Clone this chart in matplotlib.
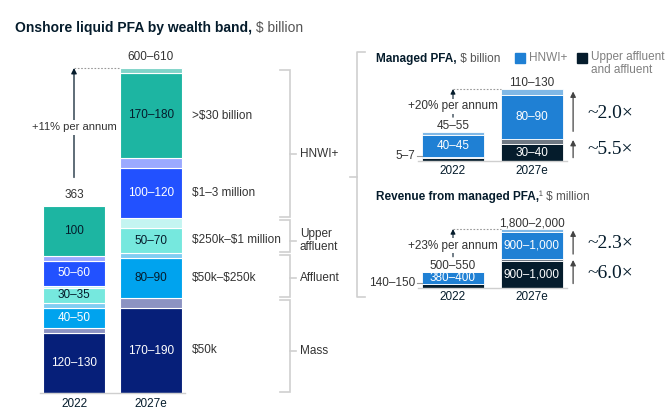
import matplotlib
matplotlib.use("Agg")
import matplotlib.pyplot as plt
from matplotlib.patches import Rectangle

W, H = 669, 416
plt.rcParams['font.family'] = ['Liberation Sans', 'DejaVu Sans']
plt.rcParams['text.parse_math'] = False

INK = "#051c2c"
GREY = "#555555"
RULE = "#cfcfcf"

# onshore liquid PFA, $ billion - bands listed bottom to top
years = ["2022", "2027e"]
bands = ["$50k", "$50k–$250k", "$250k–$1 million", "$1–3 million", ">$30 billion"]
pfa_low_2022 = [120, 40, 30, 50, 100]
pfa_high_2022 = [130, 50, 35, 60, 100]
pfa_low_2027 = [170, 80, 50, 100, 170]
pfa_high_2027 = [190, 90, 70, 120, 180]
pfa_totals = ["363", "600–610"]
pfa_cagr = "+11% per annum"
segments = ["Mass", "Affluent", "Upper\naffluent", "HNWI+"]
segment_bands = [[0], [1], [2], [3, 4]]

# managed PFA, $ billion
managed_aff_low = [5, 30]
managed_aff_high = [7, 40]
managed_hnwi_low = [40, 80]
managed_hnwi_high = [45, 90]
managed_totals = ["45–55", "110–130"]
managed_cagr = "+20% per annum"
managed_growth = ["~5.5×", "~2.0×"]  # affluent, HNWI+

# revenue from managed PFA, $ million
revenue_aff_low = [140, 900]
revenue_aff_high = [150, 1000]
revenue_hnwi_low = [380, 900]
revenue_hnwi_high = [400, 1000]
revenue_totals = ["500–550", "1,800–2,000"]
revenue_cagr = "+23% per annum"
revenue_growth = ["~6.0×", "~2.3×"]

band_colors = ["#061f79", "#00a3ee", "#76e8de", "#2251ff", "#1db5a2"]
band_range_colors = ["#8c93c2", "#80cdf2", "#c4f5f1", "#9ba9ff", "#7fd4c9"]
band_text = [["white", "white", INK, "white", INK],
             ["white", INK, INK, "white", INK]]
HNWI_C, HNWI_R = "#1f80d4", "#80b8e6"
AFF_C, AFF_R = "#051c2c", "#6f7984"


def rng(lo, hi):
    return f"{lo:,}" if lo == hi else f"{lo:,}–{hi:,}"


fig = plt.figure(figsize=(W / 100, H / 100), dpi=100)
over = fig.add_axes([0, 0, 1, 1])
over.set_xlim(0, W)
over.set_ylim(H, 0)
over.axis('off')


def px_axes(x0, y0, x1, y1):
    a = fig.add_axes([x0 / W, 1 - y1 / H, (x1 - x0) / W, (y1 - y0) / H])
    a.axis('off')
    return a


def title(x, y, bold, rest, size):
    t = over.text(x, y, bold, fontsize=size, fontweight='bold', color=INK, va='baseline')
    bb = t.get_window_extent(fig.canvas.get_renderer())
    x1 = over.transData.inverted().transform((bb.x1, bb.y0))[0]
    over.text(x1, y, rest, fontsize=size, color=GREY, va='baseline')


# ---- left chart
ax = px_axes(30, 23, 300, 393)
S = 0.5  # px per unit
U = 77.0  # px per bar slot
ax.set_xlim(-44 / U, 226 / U)
ax.set_ylim(0, 370 / S)
bw = 62 / U
lows = [pfa_low_2022, pfa_low_2027]
highs = [pfa_high_2022, pfa_high_2027]
tops = []
for i, yr in enumerate(years):
    bottom = 0
    for b in range(len(bands)):
        lo, hi = lows[i][b], highs[i][b]
        ax.bar(i, lo, bw, bottom=bottom, color=band_colors[b], edgecolor='white', linewidth=0.8)
        ax.text(i, bottom + lo / 2, rng(lo, hi), ha='center', va='center',
                color=band_text[i][b], fontsize=8.5)
        if hi > lo:
            ax.bar(i, hi - lo, bw, bottom=bottom + lo, color=band_range_colors[b],
                   edgecolor='white', linewidth=0.8)
        bottom += hi
    tops.append(bottom)
    ax.text(i, -11 / S, yr, ha='center', va='center', fontsize=8.5, color=INK)
    ax.text(i, bottom + 8 / S, pfa_totals[i], ha='center', va='baseline', fontsize=8.5, color='#333')
ax.plot([-34 / U, 1 + 34 / U], [0, 0], color=RULE, lw=1, clip_on=False)

# growth arrow
ax.annotate('', xy=(0, tops[1]), xytext=(0, tops[0] + 28 / S),
            arrowprops=dict(arrowstyle='-|>', color=INK, lw=0.9, mutation_scale=8,
                            shrinkA=0, shrinkB=0))
ax.text(0, tops[0] + 78 / S, pfa_cagr, ha='center', va='center', fontsize=8, color='#333',
        bbox=dict(fc='white', ec='none', pad=2))
ax.plot([0, 1 - bw / 2], [tops[1]] * 2, color='#999999', lw=0.8, ls=(0, (1.5, 1.5)))

# band names beside 2027e
edges = [0]
for h in pfa_high_2027:
    edges.append(edges[-1] + h)
for b, name in enumerate(bands):
    ax.text(1 + bw / 2 + 10 / U, edges[b] + pfa_low_2027[b] / 2, name, ha='left', va='center',
            fontsize=8.5, color='#333')

# segment brackets
xb = (290 - 74) / U
g = 1.5 / S
for name, members in zip(segments, segment_bands):
    y0 = edges[members[0]] + g
    y1 = edges[members[-1] + 1] - g
    ax.plot([xb - 10 / U, xb, xb, xb - 10 / U], [y0, y0, y1, y1], color=RULE, lw=1.2,
            clip_on=False, solid_joinstyle='miter')
    ymid = sum(edges[m] + pfa_low_2027[m] / 2 for m in members) / len(members)
    ax.plot([xb, xb + 6 / U], [ymid, ymid], color=RULE, lw=1.2, clip_on=False)
    ax.text(xb + 10 / U, ymid, name, ha='left', va='center', fontsize=8.5, color='#333',
            linespacing=1.1)


# ---- right panels
def small_panel(y_top, y_base, scale, aff_lo, aff_hi, hn_lo, hn_hi, totals, cagr, growth):
    a = px_axes(360, y_top, 669, y_base)
    u = 78.5
    a.set_xlim(-93 / u, 216 / u)
    a.set_ylim(0, (y_base - y_top) / scale)
    w = 62 / u
    ptops = []
    for i, yr in enumerate(years):
        a.bar(i, aff_lo[i], w, color=AFF_C, edgecolor='white', linewidth=0.6)
        a.bar(i, aff_hi[i] - aff_lo[i], w, bottom=aff_lo[i], color=AFF_R,
              edgecolor='white', linewidth=0.6)
        a.bar(i, hn_lo[i], w, bottom=aff_hi[i], color=HNWI_C, edgecolor='white', linewidth=0.6)
        a.bar(i, hn_hi[i] - hn_lo[i], w, bottom=aff_hi[i] + hn_lo[i], color=HNWI_R,
              edgecolor='white', linewidth=0.6)
        top = aff_hi[i] + hn_hi[i]
        ptops.append(top)
        a.text(i, aff_hi[i] + hn_lo[i] / 2, rng(hn_lo[i], hn_hi[i]), ha='center', va='center',
               color='white', fontsize=8.5)
        a.text(i, top + 3 / scale, totals[i], ha='center', va='baseline', fontsize=8.5, color='#333')
        a.text(i, -9.5 / scale, yr, ha='center', va='center', fontsize=8.5, color=INK)
    # affluent labels
    a.text(1, aff_lo[1] / 2, rng(aff_lo[1], aff_hi[1]), ha='center', va='center',
           color='white', fontsize=8.5)
    ya = aff_hi[0] / 2 + 3 / scale
    a.text(-w / 2 - 7 / u, ya, rng(aff_lo[0], aff_hi[0]), ha='right', va='center',
           fontsize=8.5, color='#333')
    a.plot([-w / 2 - 5 / u, -w / 2], [ya, ya], color='#999999', lw=0.8, clip_on=False)
    a.plot([-w / 2 - 4 / u, 1 + w / 2 + 4 / u], [0, 0], color=RULE, lw=1, clip_on=False)
    # cagr arrow
    a.annotate('', xy=(0, ptops[1]), xytext=(0, ptops[0] + 15 / scale),
               arrowprops=dict(arrowstyle='-|>', color=INK, lw=0.8, mutation_scale=7,
                               shrinkA=0, shrinkB=0))
    a.text(0, ptops[0] + 26 / scale, cagr, ha='center', va='center', fontsize=8.5, color='#333',
           bbox=dict(fc='white', ec='none', pad=1))
    a.plot([0, 1 - w / 2], [ptops[1]] * 2, color='#999999', lw=0.8, ls=(0, (1.5, 1.5)))
    # growth multiples
    spans = [(0, aff_hi[1]), (aff_hi[1], ptops[1])]
    for (lo, hi), lab in zip(spans, growth):
        h = hi - lo
        a.annotate('', xy=(1.53, hi - 0.05 * h), xytext=(1.53, lo + 0.15 * h),
                   arrowprops=dict(arrowstyle='-|>', color='#444444', lw=0.9, mutation_scale=8,
                                   shrinkA=0, shrinkB=0))
        a.text(1.707, (lo + hi) / 2, lab, ha='left', va='center', fontsize=14,
               family='Liberation Serif', color=INK)


small_panel(40, 161, 0.554, managed_aff_low, managed_aff_high, managed_hnwi_low,
            managed_hnwi_high, managed_totals, managed_cagr, managed_growth)
small_panel(180, 288, 0.0295, revenue_aff_low, revenue_aff_high, revenue_hnwi_low,
            revenue_hnwi_high, revenue_totals, revenue_cagr, revenue_growth)

# titles
title(15, 32, "Onshore liquid PFA by wealth band,", " $ billion", 10)
title(376, 62, "Managed PFA,", " $ billion", 8.5)
title(376, 200, "Revenue from managed PFA,", "¹ $ million", 8.5)

# legend
over.add_patch(Rectangle((515, 53), 10, 10, color=HNWI_C))
over.text(529, 58, "HNWI+", va='center', fontsize=8.5, color='#808080')
over.add_patch(Rectangle((577, 53), 10, 10, color=AFF_C))
over.text(591, 57, "Upper affluent", va='center', fontsize=8.5, color='#808080')
over.text(591, 70, "and affluent", va='center', fontsize=8.5, color='#808080')

# bracket round right panels
over.plot([365, 357, 357, 365], [52, 52, 297, 297], color=RULE, lw=1.2)
over.plot([350, 357], [177, 177], color=RULE, lw=1.2)

fig.savefig("out.png", dpi=100)
